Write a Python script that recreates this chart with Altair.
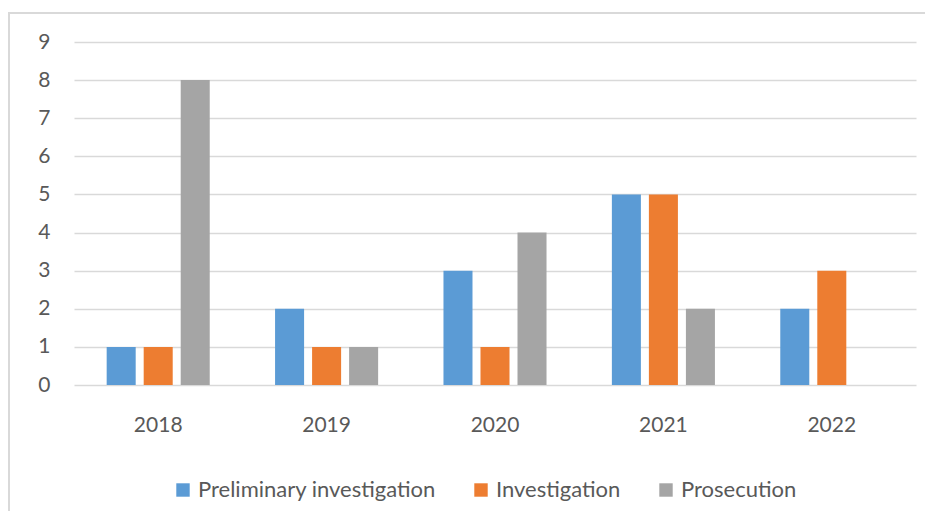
import altair as alt
import pandas as pd

years = ["2018", "2019", "2020", "2021", "2022"]
series = ["Preliminary investigation", "Investigation", "Prosecution"]
prelim = [1, 2, 3, 5, 2]
invest = [1, 1, 1, 5, 3]
prosec = [8, 1, 4, 2, 0]
colors = ["#5B9BD5", "#ED7D31", "#A5A5A5"]
y_ticks = [0, 1, 2, 3, 4, 5, 6, 7, 8, 9]

rows = []
for name, vals in zip(series, [prelim, invest, prosec]):
    for yr, v in zip(years, vals):
        rows.append({"year": yr, "series": name, "value": v})
df = pd.DataFrame(rows)

FONT = "Lato"
TXT = "#595959"
FS = 21

bars = alt.Chart(df).mark_bar().encode(
    x=alt.X("year:N", sort=years, title=None,
            scale=alt.Scale(paddingInner=0.388, paddingOuter=0.194),
            axis=alt.Axis(labelAngle=0, domain=False, ticks=False, tickSize=0,
                          labelPadding=29, labelFontSize=FS, labelFont=FONT,
                          labelColor=TXT, grid=False)),
    xOffset=alt.XOffset("series:N", sort=series,
                        scale=alt.Scale(paddingInner=0.216, paddingOuter=0)),
    y=alt.Y("value:Q", title=None,
            scale=alt.Scale(domain=[0, 9], nice=False),
            axis=alt.Axis(values=y_ticks, domain=False, ticks=False, tickSize=0,
                          labelPadding=24, labelFontSize=FS, labelFont=FONT,
                          labelColor=TXT, gridColor="#D9D9D9", gridWidth=1.5)),
    color=alt.Color("series:N", sort=series, title=None,
                    scale=alt.Scale(domain=series, range=colors),
                    legend=alt.Legend(orient="none", direction="horizontal",
                                      legendX=98, legendY=437,
                                      symbolType="square", symbolSize=180,
                                      symbolStrokeWidth=0, labelOffset=4,
                                      columnPadding=34, labelFontSize=22,
                                      labelLimit=500,
                                      labelFont=FONT, labelColor=TXT)),
)

border = alt.Chart(pd.DataFrame({"a": [0]})).mark_rect(
    fill=None, stroke="#D9D9D9", strokeWidth=2
).encode(
    x=alt.value(-65), x2=alt.value(900), y=alt.value(-29), y2=alt.value(540)
)

chart = alt.layer(border, bars).properties(
    width=842, height=343,
    autosize=alt.AutoSizeParams(type="none"),
    padding={"left": 66, "top": 34, "right": 9, "bottom": 126},
).configure_view(stroke=None)

chart.save("out.html", embed_options={"renderer": "svg", "actions": False})
